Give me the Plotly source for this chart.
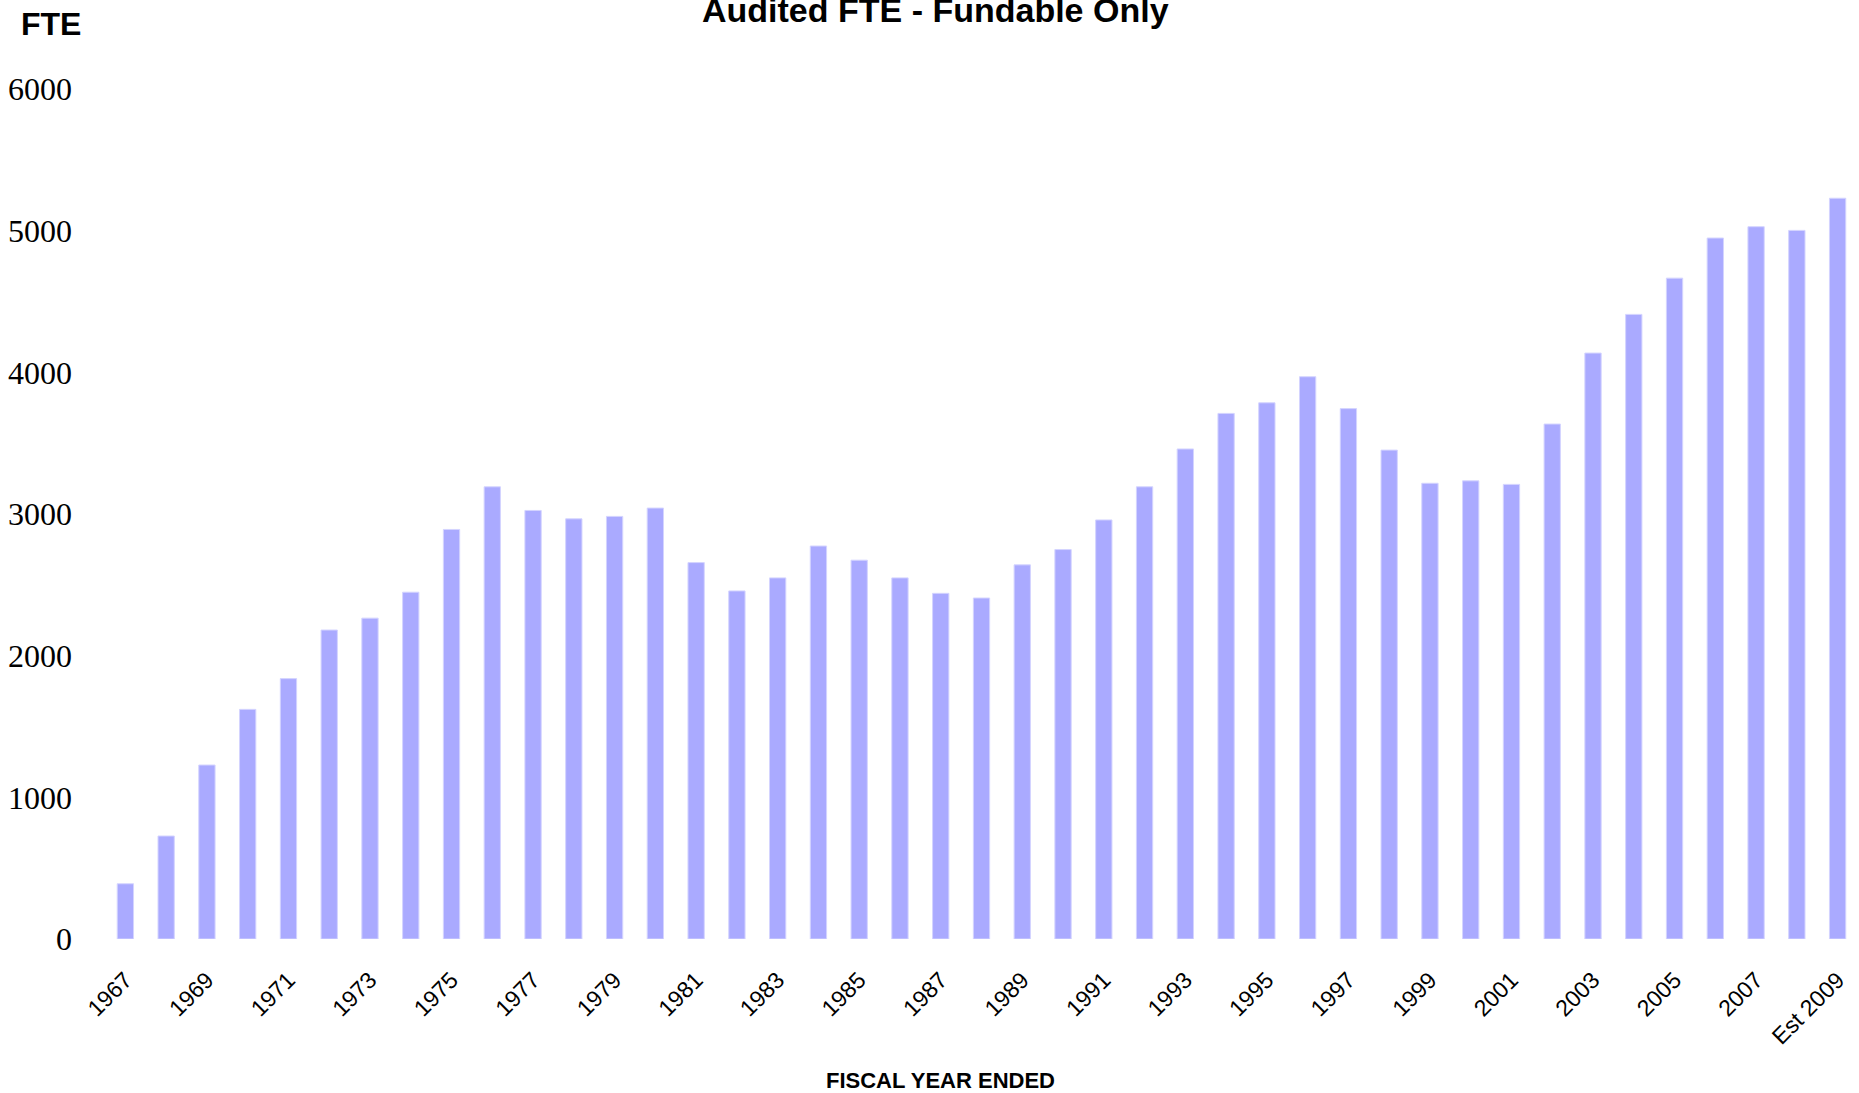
import plotly.graph_objects as go

years = [str(y) for y in range(1967, 2009)] + ["Est 2009"]
fte = [390, 727, 1228, 1621, 1838, 2181, 2265, 2448, 2891, 3192,
       3025, 2966, 2983, 3042, 2657, 2457, 2549, 2774, 2674, 2549,
       2440, 2407, 2641, 2749, 2958, 3192, 3459, 3710, 3785, 3969,
       3744, 3451, 3217, 3234, 3209, 3635, 4136, 4409, 4665, 4948,
       5028, 5002, 5229]
tick_labels = years[::2]
y_ticks = [0, 1000, 2000, 3000, 4000, 5000, 6000]

W, H = 1859, 1093
ML, MR, MT, MB = 105, 1, 89, 154
PW, PH = W - ML - MR, H - MT - MB

def px_to_paper_x(px):
    return (px - ML) / PW

def px_to_paper_y(py):
    return (H - MB - py) / PH

fig = go.Figure()
fig.add_trace(go.Bar(
    x=years, y=fte,
    marker=dict(color="#AAAAFF", line=dict(color="#D4D4FF", width=1)),
    width=0.4,
))

fig.update_layout(
    width=W, height=H, autosize=False,
    margin=dict(l=ML, r=MR, t=MT, b=MB, pad=0),
    paper_bgcolor="white", plot_bgcolor="white",
    showlegend=False,
    xaxis=dict(
        type="category",
        tickmode="array", tickvals=tick_labels, ticktext=tick_labels,
        tickangle=-45,
        tickfont=dict(family="Liberation Sans, Arial", size=23, color="black"),
        showgrid=False, showline=False, zeroline=False, ticks="",
        ticklabelstandoff=22,
        range=[-0.5, len(years) - 0.5],
    ),
    yaxis=dict(
        range=[0, 6000],
        tickvals=y_ticks,
        tickfont=dict(family="Liberation Serif, Times New Roman", size=32, color="black"),
        showgrid=False, showline=False, zeroline=False, ticks="",
        ticklabelstandoff=32,
    ),
    annotations=[
        dict(text="<b>Audited FTE - Fundable Only</b>", xref="paper", yref="paper",
             x=px_to_paper_x(935), y=px_to_paper_y(10), xanchor="center", yanchor="middle",
             showarrow=False, font=dict(family="Liberation Sans, Arial", size=34, color="black")),
        dict(text="<b>FTE</b>", xref="paper", yref="paper",
             x=px_to_paper_x(51), y=px_to_paper_y(24), xanchor="center", yanchor="middle",
             showarrow=False, font=dict(family="Liberation Sans, Arial", size=32, color="black")),
        dict(text="<b>FISCAL YEAR ENDED</b>", xref="paper", yref="paper",
             x=px_to_paper_x(940), y=px_to_paper_y(1080), xanchor="center", yanchor="middle",
             showarrow=False, font=dict(family="Liberation Sans, Arial", size=22, color="black")),
    ],
)

fig.write_html(
    "out.html",
    config={"displayModeBar": False},
    post_script="document.body.style.margin='0';document.body.style.overflow='hidden';",
)
